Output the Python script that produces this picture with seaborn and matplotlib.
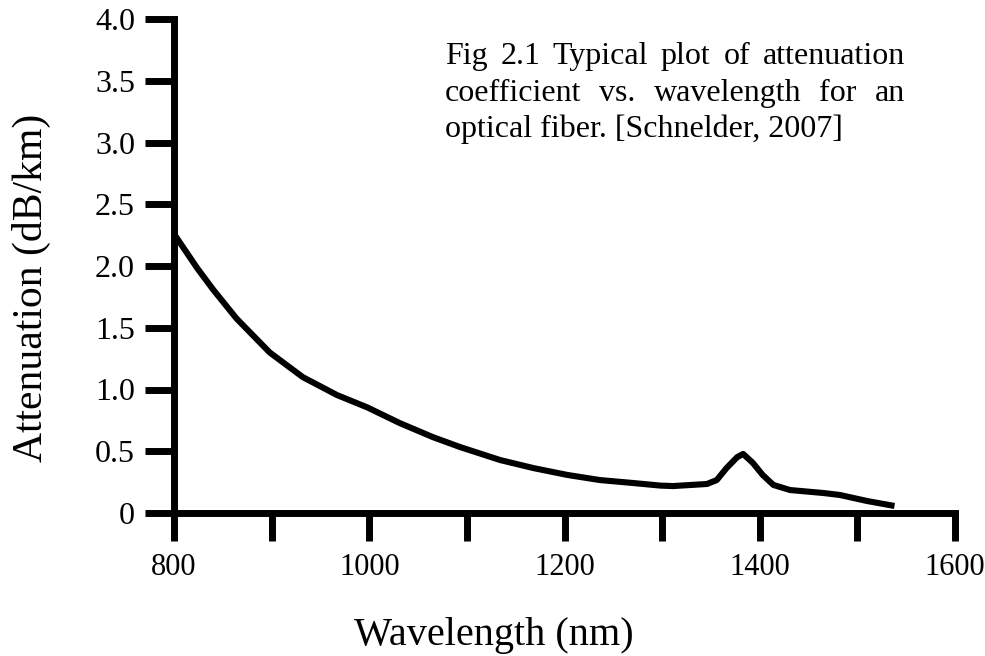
import matplotlib
matplotlib.use("Agg")
import matplotlib.pyplot as plt
import seaborn as sns
import pandas as pd

# ---- data ----
wavelength_nm = [800, 824, 840, 864, 898, 932, 967, 998, 1031, 1065, 1093, 1134,
                 1168, 1203, 1236, 1270, 1298, 1311, 1346, 1356, 1366, 1377, 1383,
                 1393, 1403, 1414, 1431, 1465, 1482, 1510, 1538]
attenuation_db_km = [2.26, 1.98, 1.81, 1.575, 1.30, 1.10, 0.955, 0.855, 0.729, 0.615,
                     0.534, 0.429, 0.364, 0.308, 0.267, 0.243, 0.222, 0.218, 0.235,
                     0.267, 0.364, 0.453, 0.478, 0.405, 0.308, 0.227, 0.186, 0.162,
                     0.146, 0.097, 0.057]
x_ticks = [800, 900, 1000, 1100, 1200, 1300, 1400, 1500, 1600]
x_tick_labels = ["800", "", "1000", "", "1200", "", "1400", "", "1600"]
y_ticks = [0, 0.5, 1.0, 1.5, 2.0, 2.5, 3.0, 3.5, 4.0]
y_tick_labels = ["0", "0.5", "1.0", "1.5", "2.0", "2.5", "3.0", "3.5", "4.0"]
caption_lines = [["Fig", "2.1", "Typical", "plot", "of", "attenuation"],
                 ["coefficient", "vs.", "wavelength", "for", "an"],
                 ["optical fiber. [Schnelder, 2007]"]]
x_label = "Wavelength (nm)"
y_label = "Attenuation (dB/km)"

df = pd.DataFrame({"wavelength": wavelength_nm, "attenuation": attenuation_db_km})

sns.set_style("white")
plt.rcParams["font.family"] = ["Liberation Serif", "DejaVu Serif"]
plt.rcParams["text.color"] = "black"
plt.rcParams["axes.labelcolor"] = "black"
plt.rcParams["xtick.color"] = "black"
plt.rcParams["ytick.color"] = "black"

W, H = 985, 656
fig = plt.figure(figsize=(W / 100, H / 100), dpi=100)
ax = fig.add_axes([174 / W, (H - 513) / H, (955 - 174) / W, (513 - 19) / H])

sns.lineplot(data=df, x="wavelength", y="attenuation", ax=ax, color="black",
             linewidth=4.4, sort=False, estimator=None)
for ln in ax.lines:
    ln.set_solid_joinstyle("round")
    ln.set_solid_capstyle("butt")

ax.set_xlim(800, 1600)
ax.set_ylim(0, 4.0)
ax.set_xticks(x_ticks, x_tick_labels)
ax.set_yticks(y_ticks, y_tick_labels)

for side in ["top", "right"]:
    ax.spines[side].set_visible(False)
for side in ["left", "bottom"]:
    ax.spines[side].set_linewidth(5)
    ax.spines[side].set_color("black")
    ax.spines[side].set_capstyle("projecting")

ax.tick_params(axis="x", direction="out", length=20, width=5, color="black",
               labelcolor="black", labelsize=22, pad=9, bottom=True)
ax.tick_params(axis="y", direction="out", length=21, width=5, color="black",
               labelcolor="black", labelsize=23, pad=7, left=True)
ax.grid(False)

ax.set_xlabel(x_label, fontsize=29, va="baseline", ha="center", color="black")
ax.set_ylabel(y_label, fontsize=30, va="center", ha="center", color="black")
ax.xaxis.set_label_coords((494 - 174) / 781, (513 - 645) / 494)
ax.yaxis.set_label_coords((31 - 174) / 781, (513 - 288) / 494)

# ---- justified caption ----
left_px, right_px = 445, 905
baselines = [64, 101, 137]
renderer = fig.canvas.get_renderer()
for words, base in zip(caption_lines, baselines):
    texts = [fig.text(0, 0, w, fontsize=23, ha="left", va="baseline", color="black")
             for w in words]
    widths = [t.get_window_extent(renderer).width for t in texts]
    if len(words) > 1:
        gap = (right_px - left_px - sum(widths)) / (len(words) - 1)
    else:
        gap = 0
    x = left_px
    for t, w in zip(texts, widths):
        t.set_position((x / W, 1 - base / H))
        x += w + gap

fig.savefig("out.png", dpi=100, facecolor="white")
